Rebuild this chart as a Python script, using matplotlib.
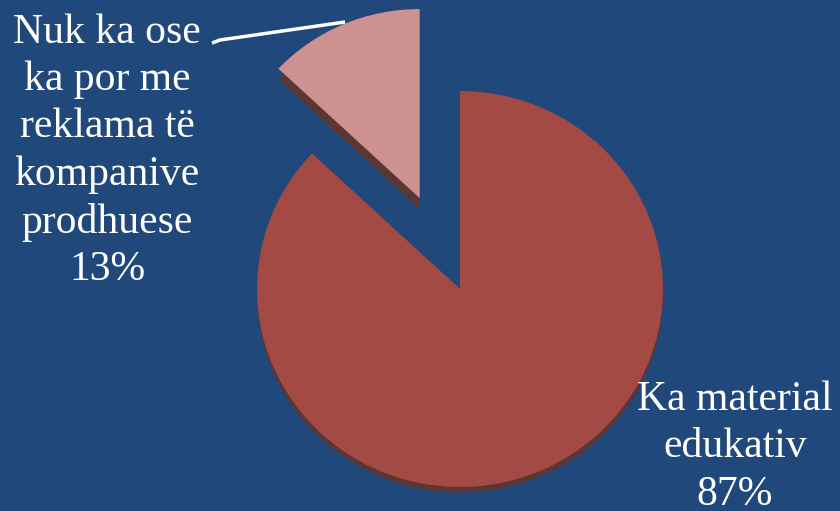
import numpy as np
from matplotlib import pyplot as plt

# data
labels = ['Nuk ka ose\nka por me\nreklama të\nkompanive\nprodhuese', 'Ka material\nedukativ']
values = [13, 87]
colors = ['#CD9190', '#A34A45']
explode = [0.5, 0.0]

bg = '#21487B'
side = '#5A3634'

fig = plt.figure(figsize=(8.4, 5.11), dpi=100, facecolor=bg)
ax = fig.add_axes([0, 0, 1, 1])
ax.set_facecolor(bg)

# pie radius is 1 unit, centre sits at pixel (460, 289); slight tilt -> 203 px wide, 198 px high
sx, sy = 203, 198
cy_px = 289

# side faces: same pie pushed down a little, drawn first
sides, _ = ax.pie(values, colors=[side, side], explode=explode, startangle=90,
                  counterclock=True, radius=1.0, wedgeprops=dict(linewidth=0))
wedges, _ = ax.pie(values, colors=colors, explode=explode, startangle=90,
                   counterclock=True, radius=1.0, wedgeprops=dict(linewidth=0))

# the detached slice sits a bit further back, so it looks a bit smaller
small_r = 0.955
wedges[0].set_radius(small_r)
sides[0].set_radius(small_r)
cx, cy = sides[0].center
sides[0].set_center((cx, cy - 0.055))
cx, cy = sides[1].center
sides[1].set_center((cx, cy - 0.028))

ax.set_aspect('auto')
ax.set_xlim(-460 / sx, 380 / sx)
ax.set_ylim(-(511 - cy_px) / sy, cy_px / sy)
ax.axis('off')

font = dict(family='Liberation Serif', color='white', fontsize=30,
            ha='center', va='center', linespacing=1.3)
ax.text(-353 / sx, 138 / sy, f'{labels[0]}\n{values[0]}%', **font)
ax.text(275 / sx, -158 / sy, f'{labels[1]}\n{values[1]}%', **font)

# leader line for the small slice
ax.plot(np.array([-248, -240, -115]) / sx, np.array([246, 249, 267]) / sy,
        color='white', lw=2.5, solid_capstyle='butt')

plt.savefig('out.png', dpi=100, facecolor=bg)
